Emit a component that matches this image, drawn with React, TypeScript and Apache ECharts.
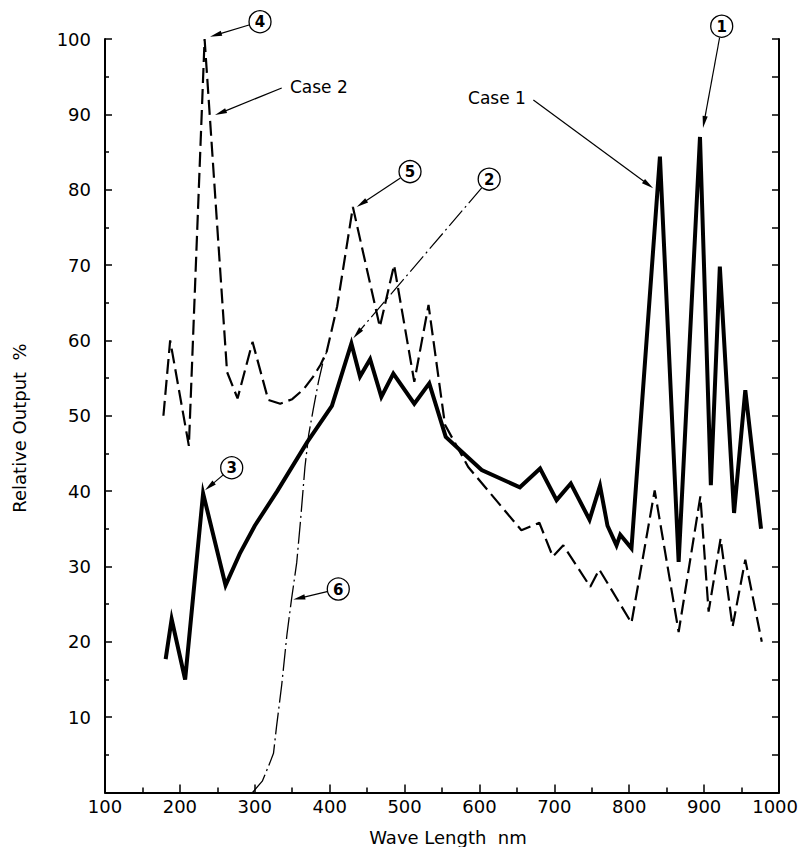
import React, { useEffect, useRef } from "react";
import * as echarts from "echarts";

// Wave length (nm) / relative output (%) pairs
const case1: [number, number][] = [
  [181, 17.7], [189, 23], [207, 15], [231, 39.7], [261, 27.5], [280, 31.7], [300, 35.4],
  [330, 40], [370, 46.5], [403, 51.3], [429, 59.6], [440.5, 55.2], [454, 57.5], [469, 52.5],
  [485, 55.6], [513, 51.6], [533, 54.3], [555, 47.2], [603, 42.8], [654, 40.5], [681, 43],
  [703, 38.8], [722, 41], [747, 36.2], [761, 40.7], [771, 35.4], [783, 32.8], [788, 34.2],
  [803, 32.4], [841, 84.4], [866, 30.6], [894.5, 87], [909, 40.8], [921, 69.8], [940, 37.1],
  [955, 53.4], [976, 35],
];

const case2: [number, number][] = [
  [178, 50], [187, 60], [212, 46], [233, 100], [263, 55.8], [277, 52.3], [297, 59.8],
  [318, 52.1], [334, 51.6], [350, 52.2], [365, 53.5], [378, 55.2], [388, 56.8], [396, 58.5],
  [410, 64.5], [431, 77.7], [467, 61.8], [486, 70], [513, 54.5], [532, 64.7], [554, 48.8],
  [585, 43.2], [656, 34.8], [680, 35.8], [698, 31.3], [712, 32.8], [748, 27.3], [760, 29.6],
  [803, 22.5], [834, 40.1], [866, 21.3], [895, 39.3], [906, 24], [922, 33.7], [938, 22],
  [955, 30.9], [977, 20],
];

const curve6: [number, number][] = [
  [297, 0], [310, 1.5], [320, 3.9], [325, 5.2], [329, 8.7], [336, 14.3], [343, 21],
  [349, 25.6], [356, 30.5], [361, 36], [367, 43.2], [372, 47.5], [378, 50.8], [385, 54.5],
  [392, 57.5], [396, 58.5],
];

const xTickLabels = [100, 200, 300, 400, 500, 600, 700, 800, 900, 1000];
const yTickLabels = [10, 20, 30, 40, 50, 60, 70, 80, 90, 100];

// Circled markers: label, circle centre (data), arrow tip (data), dash-dot pointer?
const markers: { label: string; at: [number, number]; tip: [number, number]; dashDot?: boolean }[] = [
  { label: "1", at: [923.5, 101.7], tip: [898.5, 88.2] },
  { label: "2", at: [613, 81.4], tip: [431.6, 60.3], dashDot: true },
  { label: "3", at: [269.2, 43.1], tip: [233.5, 40.1] },
  { label: "4", at: [307, 102.3], tip: [240.2, 100.3] },
  { label: "5", at: [507.3, 82.4], tip: [436, 77.7] },
  { label: "6", at: [411.5, 27], tip: [351.4, 25.6] },
];

// Case labels: text, text anchor (data), pointer start (data), arrow tip (data), align
const caseLabels: { text: string; at: [number, number]; from: [number, number]; tip: [number, number]; align: string }[] = [
  { text: "Case 1", at: [662, 92.2], from: [672, 91.9], tip: [832, 80.2], align: "right" },
  { text: "Case 2", at: [347, 93.6], from: [336, 93.5], tip: [246.9, 89.9], align: "left" },
];

const FONT = "DejaVu Sans";
const WIDTH = 799;
const HEIGHT = 847;

export default function App() {
  const ref = useRef<HTMLDivElement>(null);

  useEffect(() => {
    if (!ref.current) return;
    const chart = echarts.init(ref.current, undefined, { renderer: "svg" });
    const axisLine = { show: true, onZero: false, lineStyle: { color: "#000", width: 2 } };
    const labelStyle = { color: "#000", fontSize: 18, fontFamily: FONT };
    const lastX = xTickLabels[xTickLabels.length - 1];

    chart.setOption({
      animation: false,
      backgroundColor: "#fff",
      grid: { left: 105, right: 20, top: 39, bottom: 54.5, containLabel: false, outerBoundsMode: "none" },
      xAxis: {
        type: "value",
        min: 100,
        max: 1000,
        interval: 100,
        axisLine,
        axisTick: { show: true, inside: true, length: 8, lineStyle: { color: "#000", width: 1.5 } },
        minorTick: { show: true, splitNumber: 2, length: 5, lineStyle: { color: "#000", width: 1.5 } },
        splitLine: { show: false },
        axisLabel: {
          ...labelStyle,
          margin: 5,
          // the last label is drawn separately so that it stays inside the page
          formatter: (v: number) => (xTickLabels.includes(v) && v !== lastX ? String(v) : ""),
        },
      },
      yAxis: [
        {
          type: "value",
          min: 0,
          max: 100,
          interval: 10,
          axisLine,
          axisTick: { show: true, inside: true, length: 7, lineStyle: { color: "#000", width: 1.5 } },
          minorTick: { show: true, splitNumber: 2, length: 4, lineStyle: { color: "#000", width: 1.5 } },
          splitLine: { show: false },
          axisLabel: {
            ...labelStyle,
            margin: 14,
            formatter: (v: number) => (yTickLabels.includes(v) ? String(v) : ""),
          },
        },
        {
          type: "value",
          position: "right",
          min: 0,
          max: 100,
          interval: 5,
          axisLine,
          axisTick: { show: true, inside: true, length: 7, lineStyle: { color: "#000", width: 1.5 } },
          splitLine: { show: false },
          axisLabel: { show: false },
        },
      ],
      series: [
        {
          name: "Case 1",
          type: "line",
          data: case1,
          showSymbol: false,
          symbol: "none",
          lineStyle: { color: "#000", width: 4, join: "miter", miterLimit: 6 },
        },
        {
          name: "Case 2",
          type: "line",
          data: case2,
          showSymbol: false,
          symbol: "none",
          lineStyle: { color: "#000", width: 2.2, type: [15, 6] },
        },
        {
          name: "6",
          type: "line",
          data: curve6,
          showSymbol: false,
          symbol: "none",
          lineStyle: { color: "#000", width: 1.3, type: [22, 4, 2, 4] },
        },
      ],
    });

    const toPx = (p: [number, number]) =>
      chart.convertToPixel({ xAxisIndex: 0, yAxisIndex: 0 }, p) as number[];

    const arrow = (from: number[], tip: number[], dash?: number[]) => {
      const dx = tip[0] - from[0];
      const dy = tip[1] - from[1];
      const len = Math.hypot(dx, dy);
      const ux = dx / len;
      const uy = dy / len;
      const L = 12;
      const w = 2.6;
      const base = [tip[0] - ux * L, tip[1] - uy * L];
      return [
        {
          type: "line",
          shape: { x1: from[0], y1: from[1], x2: base[0] + ux * 2, y2: base[1] + uy * 2 },
          style: { stroke: "#000", lineWidth: 1.2, lineDash: dash },
          silent: true,
        },
        {
          type: "polygon",
          shape: {
            points: [
              tip,
              [base[0] - uy * w, base[1] + ux * w],
              [base[0] + uy * w, base[1] - ux * w],
            ],
          },
          style: { fill: "#000" },
          silent: true,
        },
      ];
    };

    const elements: any[] = [];
    const R = 11;
    markers.forEach((m) => {
      const c = toPx(m.at);
      const t = toPx(m.tip);
      const dx = t[0] - c[0];
      const dy = t[1] - c[1];
      const len = Math.hypot(dx, dy);
      const start = [c[0] + (dx / len) * (R + 0.5), c[1] + (dy / len) * (R + 0.5)];
      elements.push(...arrow(start, t, m.dashDot ? [20, 4, 2, 4] : undefined));
      elements.push({
        type: "circle",
        shape: { cx: c[0], cy: c[1], r: R },
        style: { fill: "#fff", stroke: "#000", lineWidth: 1.3 },
        silent: true,
      });
      elements.push({
        type: "text",
        x: c[0],
        y: c[1] + 0.5,
        style: {
          text: m.label,
          fontSize: 15,
          fontWeight: "bold",
          fontFamily: FONT,
          fill: "#000",
          align: "center",
          verticalAlign: "middle",
        },
        silent: true,
      });
    });

    caseLabels.forEach((c) => {
      const a = toPx(c.at);
      elements.push(...arrow(toPx(c.from), toPx(c.tip)));
      elements.push({
        type: "text",
        x: a[0],
        y: a[1],
        style: {
          text: c.text,
          fontSize: 17,
          fontFamily: FONT,
          fill: "#000",
          align: c.align,
          verticalAlign: "middle",
        },
        silent: true,
      });
    });

    // last x tick label, kept inside the right edge of the page
    const lastPx = toPx([lastX, 0]);
    elements.push({
      type: "text",
      x: WIDTH - 1,
      y: lastPx[1] + 5,
      style: {
        text: String(lastX),
        fontSize: 18,
        fontFamily: FONT,
        fill: "#000",
        align: "right",
        verticalAlign: "top",
      },
      silent: true,
    });

    elements.push({
      type: "text",
      x: 19,
      y: 428,
      rotation: Math.PI / 2,
      style: {
        text: "Relative Output  %",
        fontSize: 18,
        fontFamily: FONT,
        fill: "#000",
        align: "center",
        verticalAlign: "middle",
      },
      silent: true,
    });
    elements.push({
      type: "text",
      x: 448,
      y: 837,
      style: {
        text: "Wave Length  nm",
        fontSize: 18,
        fontFamily: FONT,
        fill: "#000",
        align: "center",
        verticalAlign: "middle",
      },
      silent: true,
    });

    chart.setOption({ graphic: { elements } });

    return () => chart.dispose();
  }, []);

  return (
    <div
      ref={ref}
      style={{ position: "absolute", left: 0, top: 0, width: WIDTH, height: HEIGHT, background: "#fff" }}
    />
  );
}
